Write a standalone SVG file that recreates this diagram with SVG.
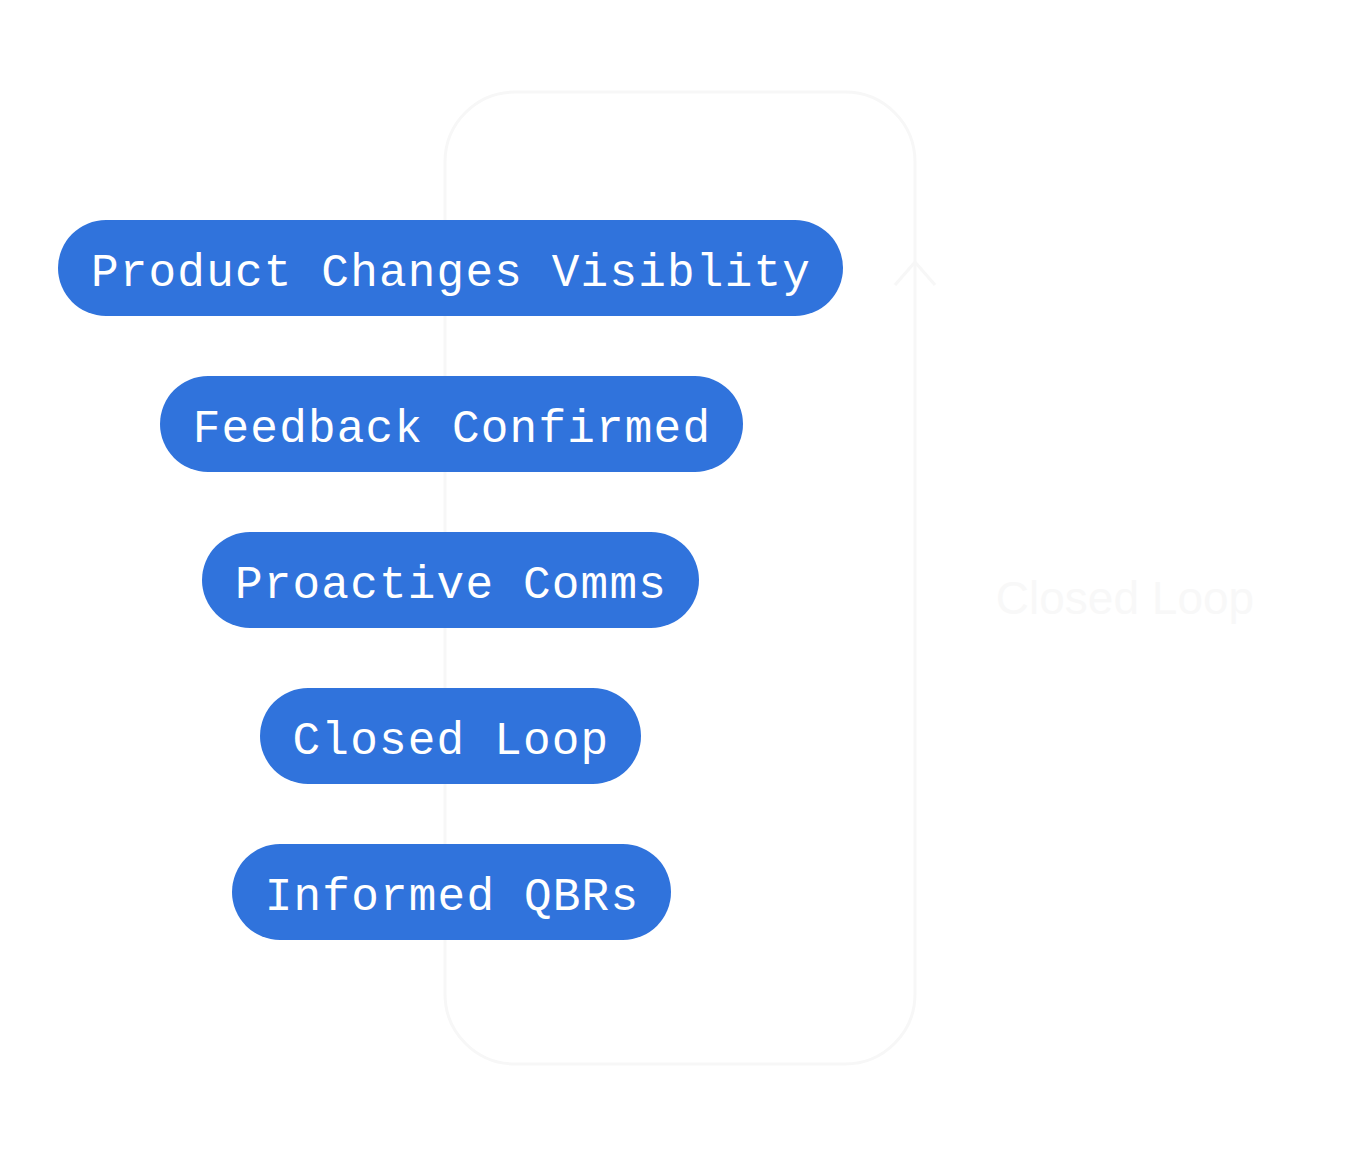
<svg xmlns="http://www.w3.org/2000/svg" width="1360" height="1152" viewBox="0 0 1360 1152">
<style>
.pill{fill:#3073dc}
.lbl{font-family:"Liberation Mono","DejaVu Sans Mono",monospace;font-size:46px;letter-spacing:1.2px;fill:#ffffff;text-anchor:middle}
.faint{fill:none;stroke:#f7f7f7;stroke-width:3}
</style>
<rect width="1360" height="1152" fill="#ffffff"/>
<g id="connectors">
<rect class="faint" x="445" y="92" width="470" height="972" rx="70"/>
<path class="faint" d="M895 285 L915 262 L935 285"/>
</g>
<text x="1125" y="614" font-family="Liberation Sans, sans-serif" font-size="46" fill="#f8f8f8" text-anchor="middle">Closed Loop</text>
<g id="n1"><rect class="pill" x="58" y="220" width="785" height="96" rx="48"/><text class="lbl" x="451" y="286">Product Changes Visiblity</text></g>
<g id="n2"><rect class="pill" x="160" y="376" width="583" height="96" rx="48"/><text class="lbl" x="452" y="442">Feedback Confirmed</text></g>
<g id="n3"><rect class="pill" x="202" y="532" width="497" height="96" rx="48"/><text class="lbl" x="451" y="598">Proactive Comms</text></g>
<g id="n4"><rect class="pill" x="260" y="688" width="381" height="96" rx="48"/><text class="lbl" x="451" y="754">Closed Loop</text></g>
<g id="n5"><rect class="pill" x="232" y="844" width="439" height="96" rx="48"/><text class="lbl" x="452" y="910">Informed QBRs</text></g>
</svg>
